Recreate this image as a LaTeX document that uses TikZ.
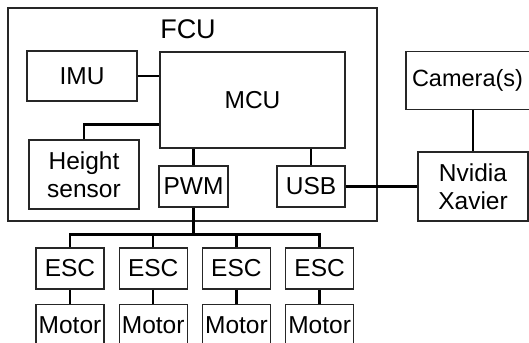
\documentclass[tikz,border=0pt]{standalone}
\usepackage{fontspec}
\setmainfont{Liberation Sans}
\usepackage{tikz}
\usetikzlibrary{positioning,calc}
\definecolor{edge}{HTML}{262626}

\begin{document}
\begin{tikzpicture}[x=1pt,y=-1pt,node distance=14pt]
  \tikzstyle{blk}=[draw=edge,line width=1.2pt,inner sep=0pt,minimum width=68pt,minimum height=41pt,align=center,font=\fontsize{24.5}{28}\selectfont]
  \tikzstyle{wire}=[draw=black,line width=2.4pt]
  \useasboundingbox (0,0) rectangle (529,342);
  % flight controller
  \node[draw=edge,line width=1.2pt,minimum width=369pt,minimum height=213pt] (fcu) at (192.5,114.5) {};
  \node[font=\fontsize{27}{30}\selectfont] (fcut) at (188,29) {FCU};
  \node[blk,minimum width=110pt,minimum height=50pt] (imu) at (82,76) {IMU};
  \node[blk,minimum width=185pt,minimum height=96pt] (mcu) at (252.5,100) {MCU};
  \node[blk,minimum width=110pt,minimum height=69pt] (hs) at (84,174.5) {Height\\sensor};
  \node[blk,minimum width=69pt] (pwm) at (193.5,186.5) {PWM};
  \node[blk] (usb) at (311,186.5) {USB};
  % companion computer
  \node[blk,minimum width=110pt,minimum height=69pt] (nx) at (473,186.5) {Nvidia\\Xavier};
  \node[blk,minimum height=58pt,inner xsep=6pt,text width=122pt,align=left,font=\fontsize{23.5}{28}\selectfont,above=41pt of nx] (cam) {Camera(s)};
  % motors
  \node[blk] (e1) at (70,268.5) {ESC};
  \node[blk,right=of e1] (e2) {ESC};
  \node[blk,right=of e2] (e3) {ESC};
  \node[blk,right=of e3] (e4) {ESC};
  \node[blk,below=of e1] (m1) {Motor};
  \node[blk,below=of e2] (m2) {Motor};
  \node[blk,below=of e3] (m3) {Motor};
  \node[blk,below=of e4] (m4) {Motor};
  \coordinate (bus) at ([yshift=-27pt]pwm.south);
  \draw[wire] (imu.east)--(imu.east -| mcu.west);
  \draw[wire] (hs.north) |- ([yshift=24pt]mcu.south west);
  \draw[wire] (mcu.south -| pwm)--(pwm.north);
  \draw[wire] (mcu.south -| usb)--(usb.north);
  \draw[wire] (usb.east)--(nx.west);
  \draw[wire] (cam.south)--(nx.north);
  \draw[wire] (pwm.south)--(bus);
  \draw[wire] (e1.north) |- (bus) -| (e4.north);
  \draw[wire] (e2.north)--(e2.north |- bus);
  \draw[wire] (e3.north)--(e3.north |- bus);
  \draw[wire] (e1)--(m1) (e2)--(m2) (e3)--(m3) (e4)--(m4);
\end{tikzpicture}
\end{document}
